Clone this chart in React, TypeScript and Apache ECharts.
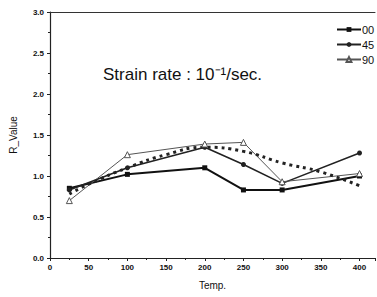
import React, { useEffect, useRef } from "react";
import * as echarts from "echarts";

const temps = [25, 100, 200, 250, 300, 400];
const s00 = [0.85, 1.02, 1.1, 0.83, 0.83, 1.0];
const s45 = [0.83, 1.1, 1.35, 1.14, 0.91, 1.28];
const s90 = [0.7, 1.26, 1.39, 1.41, 0.93, 1.03];
const fitX = [25, 50, 100, 150, 200, 250, 300, 350, 400];
const fitY = [0.78, 0.9, 1.1, 1.26, 1.35, 1.3, 1.16, 1.05, 0.88];
const legendNames = ["00", "45", "90"];
const yTicks = ["0.0", "0.5", "1.0", "1.5", "2.0", "2.5", "3.0"];

export default function App() {
  const ref = useRef<HTMLDivElement>(null);
  useEffect(() => {
    if (!ref.current) return;
    const chart = echarts.init(ref.current, null, { renderer: "svg" });
    const pair = (xs: number[], ys: number[]) => xs.map((x, i) => [x, ys[i]]);
    const font = "Liberation Sans";
    chart.setOption({
      animation: false,
      textStyle: { fontFamily: font },
      grid: { left: 48, right: 2, top: 12, bottom: 39 },
      title: {
        text: "Strain rate : 10\u207B\u00B9/sec.",
        left: 98,
        top: 61,
        textStyle: { fontSize: 17, fontWeight: "normal", color: "#111", fontFamily: font },
      },
      legend: {
        data: legendNames,
        orient: "vertical",
        left: 331,
        top: 19,
        itemWidth: 24,
        itemHeight: 6,
        itemGap: 4,
        textStyle: { fontSize: 11, color: "#111", fontFamily: font, padding: [0, 0, 0, -4] },
      },
      xAxis: [
        {
          type: "value",
          min: 0,
          max: 420,
          interval: 50,
          name: "Temp.",
          nameLocation: "middle",
          nameGap: 22,
          nameTextStyle: { fontSize: 10, color: "#111" },
          axisLine: { lineStyle: { color: "#222", width: 1.2 } },
          axisTick: { show: true, length: 3, lineStyle: { color: "#222" } },
          minorTick: { show: true, splitNumber: 2, length: 2, lineStyle: { color: "#222" } },
          splitLine: { show: false },
          axisLabel: { fontSize: 8, fontWeight: "bold", color: "#111", margin: 5, showMaxLabel: false },
        },
        {
          type: "value",
          position: "top",
          min: 0,
          max: 420,
          axisLine: { show: true, lineStyle: { color: "#333", width: 1 } },
          axisTick: { show: false },
          axisLabel: { show: false },
          splitLine: { show: false },
        },
      ],
      yAxis: {
        type: "value",
        min: 0,
        max: 3,
        interval: 0.5,
        name: "R_Value",
        nameLocation: "middle",
        nameGap: 32,
        nameTextStyle: { fontSize: 10, color: "#111" },
        axisLine: { show: true, lineStyle: { color: "#222", width: 1.2 } },
        axisTick: { show: true, length: 3, lineStyle: { color: "#222" } },
        minorTick: { show: true, splitNumber: 2, length: 2, lineStyle: { color: "#222" } },
        splitLine: { show: false },
        axisLabel: {
          fontSize: 8,
          fontWeight: "bold",
          color: "#111",
          margin: 6,
          formatter: (v: number) => yTicks[Math.round(v * 2)] ?? v.toFixed(1),
        },
      },
      series: [
        {
          name: "00",
          type: "line",
          data: pair(temps, s00),
          symbol: "rect",
          symbolSize: 5,
          itemStyle: { color: "#111" },
          lineStyle: { color: "#111", width: 2 },
        },
        {
          name: "45",
          type: "line",
          data: pair(temps, s45),
          symbol: "circle",
          symbolSize: 5,
          itemStyle: { color: "#222" },
          lineStyle: { color: "#222", width: 1.6 },
        },
        {
          name: "90",
          type: "line",
          data: pair(temps, s90),
          symbol: "triangle",
          symbolSize: 6,
          itemStyle: { color: "#fff", borderColor: "#555", borderWidth: 1 },
          lineStyle: { color: "#555", width: 1 },
        },
        {
          name: "fit",
          type: "line",
          data: pair(fitX, fitY),
          smooth: true,
          symbol: "none",
          lineStyle: { color: "#222", width: 3, type: [3, 4] },
        },
      ],
    });
    return () => chart.dispose();
  }, []);
  return <div ref={ref} style={{ position: "absolute", left: 0, top: 0, width: 377, height: 297 }} />;
}
